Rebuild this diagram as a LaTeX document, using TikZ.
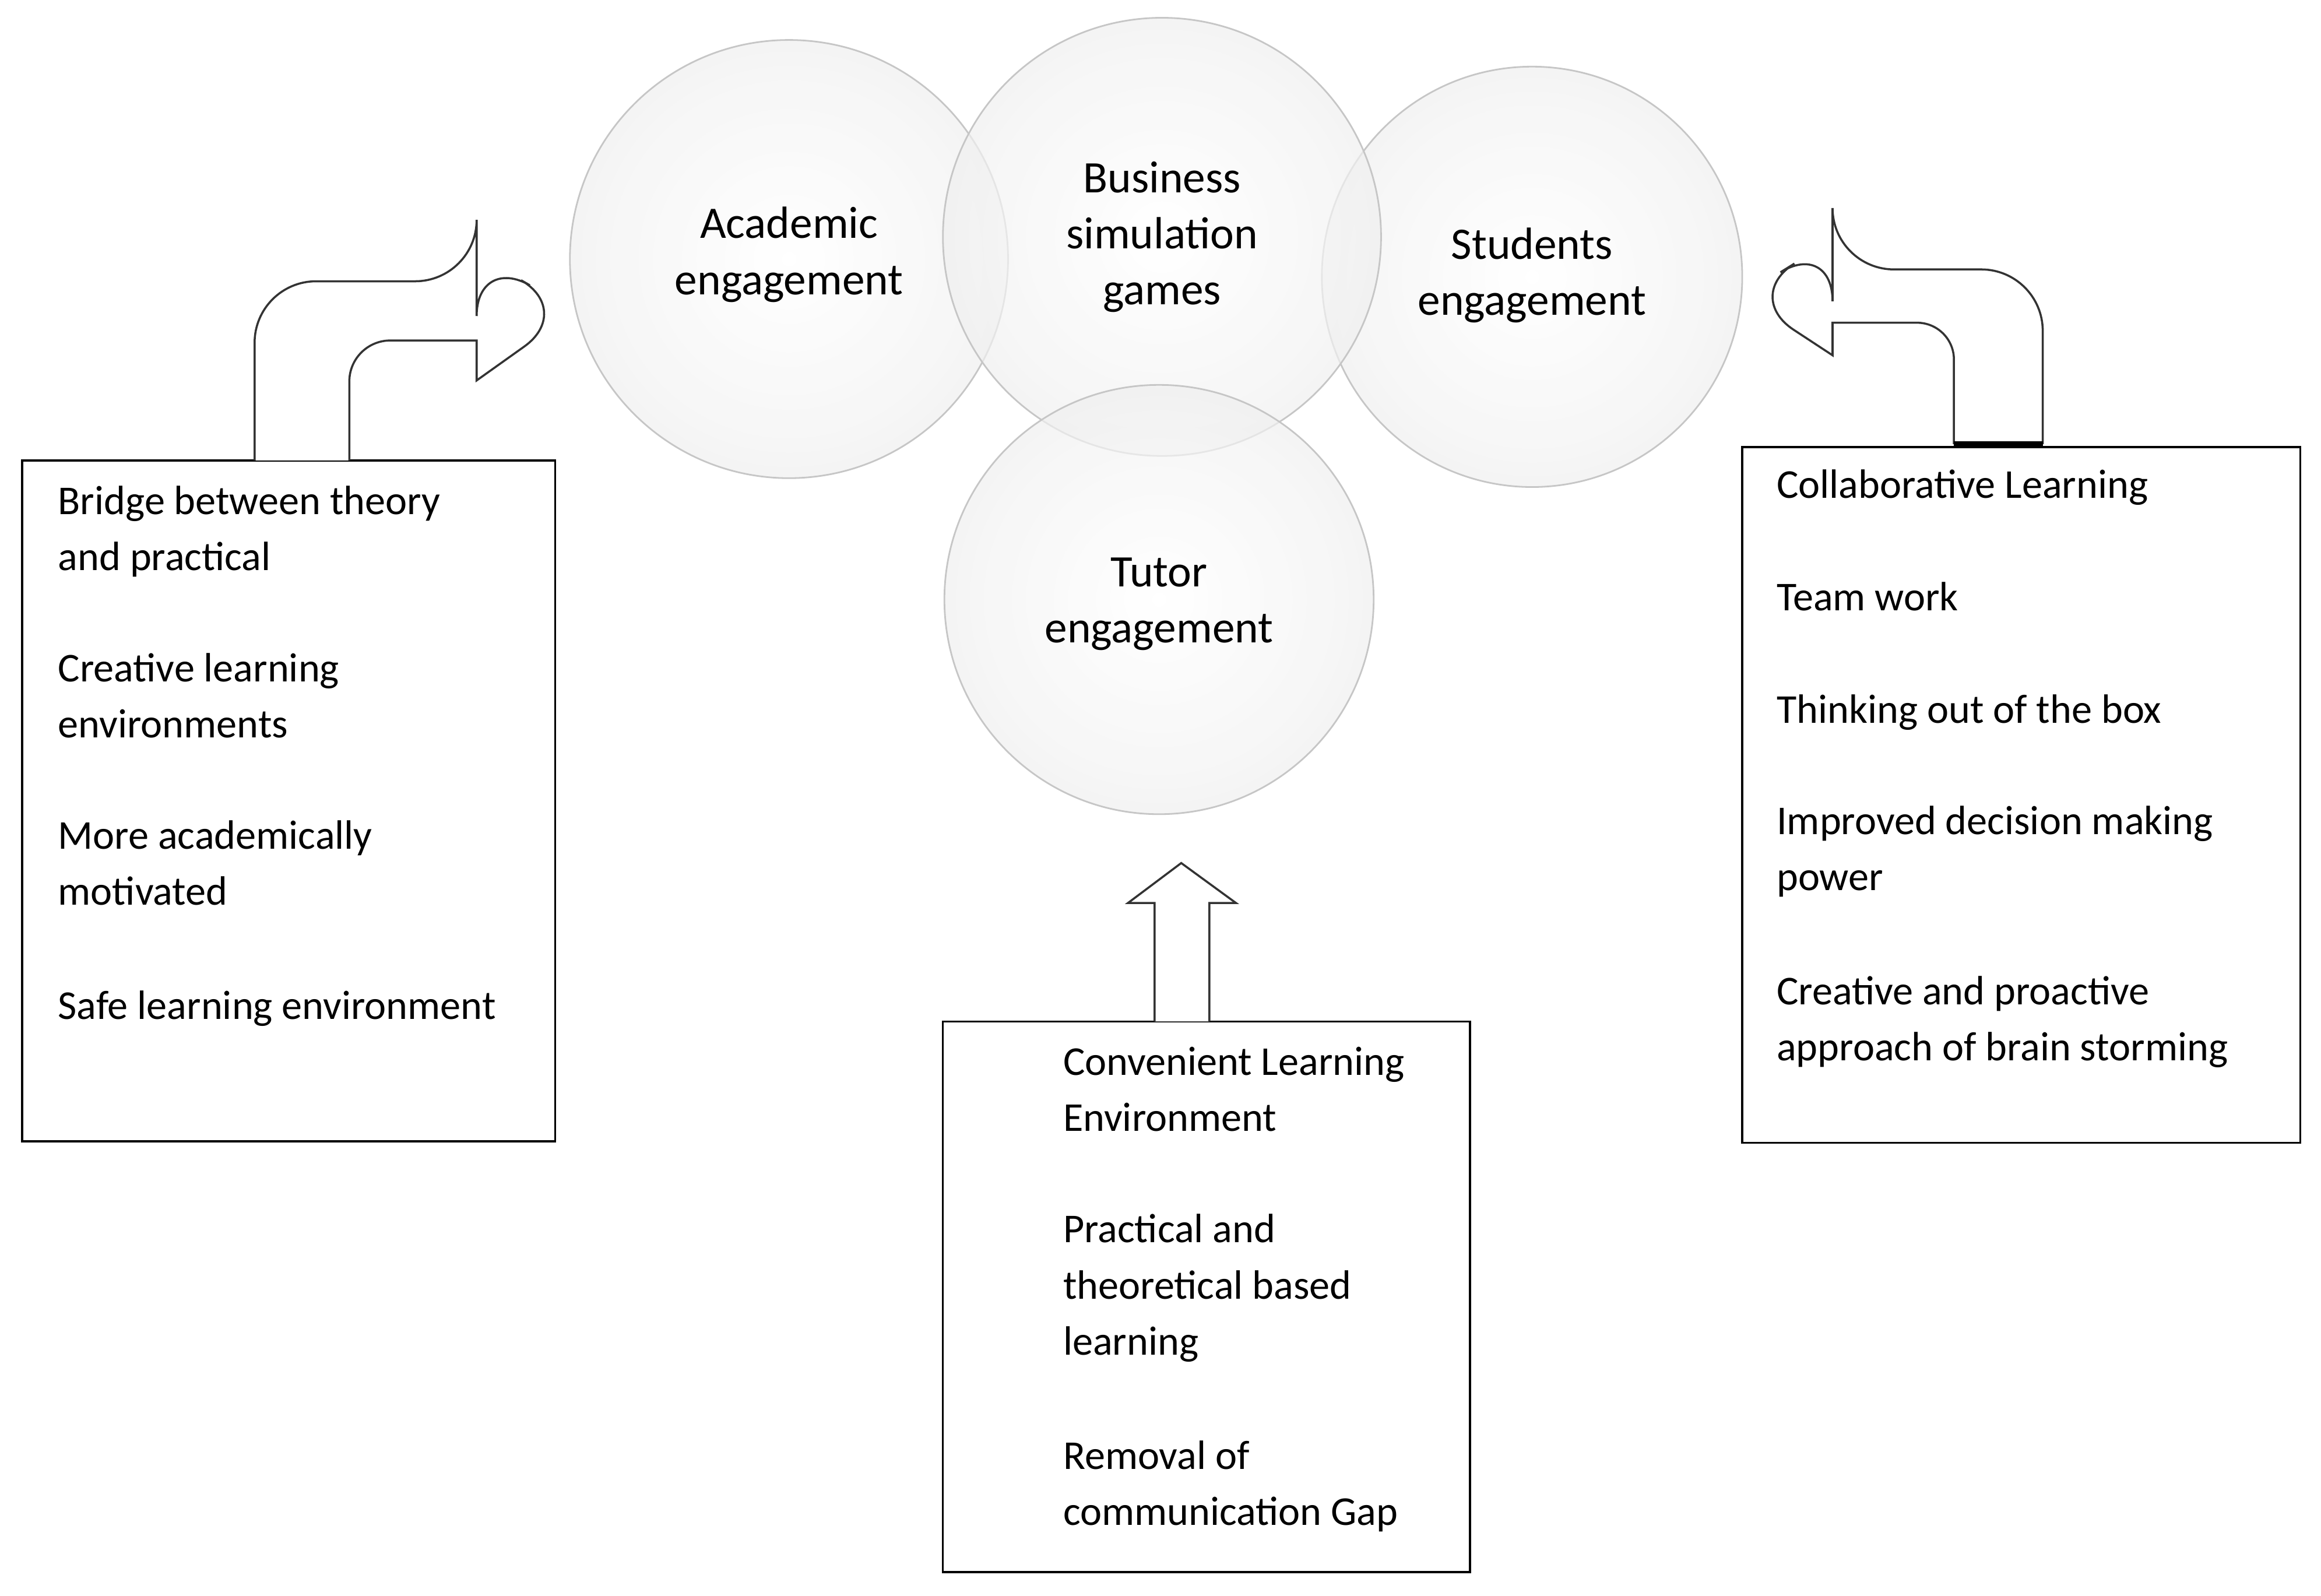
\documentclass[tikz,border=0pt]{standalone}
\usepackage{fontspec}
\setmainfont{Carlito}
\usetikzlibrary{calc}
\tikzset{
    bubble/.style={circle, draw=gray!45, line width=0.8pt, inner color=white, outer color=gray!12, fill opacity=0.7, text opacity=1, align=center, font=\fontsize{22}{27.4}\selectfont},
    box/.style={draw=black, line width=1pt},
    item/.style={anchor=north west, align=left, inner sep=0pt, font=\fontsize{20}{27.4}\selectfont},
    hollow/.style={draw=black!80, line width=1pt, fill=white, rounded corners=30pt}
}
\begin{document}
\begin{tikzpicture}[x=0.0254cm,y=-0.0254cm]
\useasboundingbox (0,0) rectangle (1568,1078);
% circles
\node[bubble, minimum size=296*0.0254cm] (acad) at (533,175) {};
\node[bubble, minimum size=284*0.0254cm] (stud) at (1035,187) {};
\node[bubble, minimum size=296*0.0254cm] (bsg) at (785,160) {};
\node[bubble, minimum size=290*0.0254cm] (tutor) at (783,405) {};
\node[align=center, font=\fontsize{22}{27.4}\selectfont] (acadt) at (533,172) {Academic\\engagement};
\node[align=center, font=\fontsize{22}{27.4}\selectfont] (bsgt) at (785,160) {Business\\simulation\\games};
\node[align=center, font=\fontsize{22}{27.4}\selectfont] (studt) at (1035,186) {Students\\engagement};
\node[align=center, font=\fontsize{22}{27.4}\selectfont] (tutort) at (783,408) {Tutor\\engagement};
% boxes
\draw[box] (15,311) rectangle (375,771);
\draw[box] (1177,302) rectangle (1554,772);
\draw[box] (637,690) rectangle (993,1062);
% arrows
\draw[hollow] (172,311) -- (172,190) -- (322,190) -- (322,172) -- (388,210)
   [sharp corners] -- (322,257) -- (322,230) [rounded corners=20pt] -- (236,230) -- (236,311);
\draw[hollow] (1380,300) -- (1380,182) -- (1238,182) -- (1238,162) -- (1177,200)
   [sharp corners] -- (1238,240) -- (1238,218) [rounded corners=18pt] -- (1320,218) -- (1320,300);
\draw[line width=2.5pt] (1320,300) -- (1380,300);
\draw[draw=black!80, line width=1pt, fill=white] (780,690) -- (780,610) -- (762,610) -- (798,583)
   -- (835,610) -- (817,610) -- (817,690);
% left items
\node[item] (l1) at (39,328) {Bridge between theory\\and practical};
\node[item] (l2) at (39,441) {Creative learning\\environments};
\node[item] (l3) at (39,554) {More academically\\motivated};
\node[item] (l4) at (39,669) {Safe learning environment};
% right items
\node[item] (r1) at (1200,317) {Collaborative Learning};
\node[item] (r2) at (1200,393) {Team work};
\node[item] (r3) at (1200,469) {Thinking out of the box};
\node[item] (r4) at (1200,544) {Improved decision making\\power};
\node[item] (r5) at (1200,659) {Creative and proactive\\approach of brain storming};
% bottom items
\node[item] (b1) at (718,707) {Convenient Learning\\Environment};
\node[item] (b2) at (718,820) {Practical and\\theoretical based\\learning};
\node[item] (b3) at (718,973) {Removal of\\communication Gap};
\end{tikzpicture}
\end{document}
